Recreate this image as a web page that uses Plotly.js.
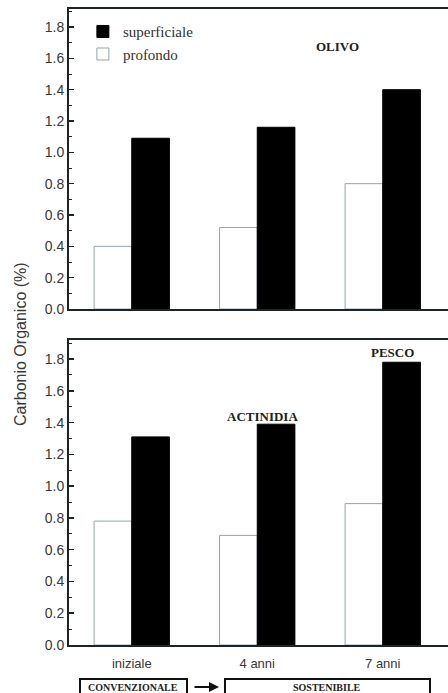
<!DOCTYPE html>
<html><head><meta charset="utf-8">
<script src="https://cdn.plot.ly/plotly-3.0.1.min.js"></script>
<style>html,body{margin:0;padding:0;background:#fff;}</style>
</head><body><div id="chart" style="width:448px;height:693px;"></div>
<script>
const periods = ["iniziale", "4 anni", "7 anni"];
const xpos = [0, 1, 2];
const olivoProfondo = [0.40, 0.52, 0.80];
const olivoSuperficiale = [1.09, 1.16, 1.40];
const lowerProfondo = [0.78, 0.69, 0.89];
const lowerSuperficiale = [1.31, 1.39, 1.78];
const yTicks = [0, 0.2, 0.4, 0.6, 0.8, 1.0, 1.2, 1.4, 1.6, 1.8];
const yTickText = ["0.0","0.2","0.4","0.6","0.8","1.0","1.2","1.4","1.6","1.8"];

const whiteBar = {color: "#ffffff", line: {color: "#8fa6ad", width: 1}};
const blackBar = {color: "#000000", line: {color: "#000000", width: 1}};

const traces = [
  {type: "bar", x: xpos, y: olivoProfondo, name: "profondo", marker: whiteBar, xaxis: "x", yaxis: "y", legendrank: 2, offsetgroup: "a"},
  {type: "bar", x: xpos, y: olivoSuperficiale, name: "superficiale", marker: blackBar, xaxis: "x", yaxis: "y", legendrank: 1, offsetgroup: "b"},
  {type: "bar", x: xpos, y: lowerProfondo, name: "profondo", marker: whiteBar, xaxis: "x2", yaxis: "y2", showlegend: false, offsetgroup: "a"},
  {type: "bar", x: xpos, y: lowerSuperficiale, name: "superficiale", marker: blackBar, xaxis: "x2", yaxis: "y2", showlegend: false, offsetgroup: "b"}
];

const axisLine = "#1e2326";
const yBase = {
  range: [0, 1.915], tickvals: yTicks, ticktext: yTickText,
  ticks: "inside", ticklen: 5, tickwidth: 1.5, tickcolor: axisLine,
  showline: true, linecolor: axisLine, linewidth: 2, mirror: false,
  showgrid: false, zeroline: false,
  tickfont: {family: "Liberation Sans, Arial, sans-serif", size: 14, color: "#383838"},
  minor: {dtick: 0.1, ticks: "inside", ticklen: 3, tickcolor: axisLine, tickwidth: 1},
  fixedrange: true
};
const xBase = {
  range: [-0.5, 2.52], showline: true, linecolor: axisLine, linewidth: 2, mirror: true,
  showgrid: false, zeroline: false, ticks: "", fixedrange: true
};

const layout = {
  width: 448, height: 693,
  margin: {l: 0, r: 0, t: 0, b: 0},
  paper_bgcolor: "#ffffff", plot_bgcolor: "#ffffff",
  barmode: "group", bargap: 0.4, bargroupgap: 0,
  showlegend: true,
  legend: {x: 0.185, y: 0.978, xanchor: "left", yanchor: "top", bgcolor: "rgba(0,0,0,0)",
           font: {family: "Liberation Serif, Times New Roman, serif", size: 15, color: "#333"},
           traceorder: "normal", itemwidth: 30, tracegroupgap: 2},
  xaxis: Object.assign({}, xBase, {domain: [69/448, 1], anchor: "y", showticklabels: false}),
  yaxis: Object.assign({}, yBase, {domain: [1 - 309/693, 1 - 9/693], anchor: "x"}),
  xaxis2: Object.assign({}, xBase, {domain: [69/448, 1], anchor: "y2", tickvals: xpos, ticktext: periods,
           ticklabelstandoff: 5,
           tickfont: {family: "Liberation Sans, Arial, sans-serif", size: 13, color: "#383838"}}),
  yaxis2: Object.assign({}, yBase, {domain: [1 - 645/693, 1 - 340/693], anchor: "x2", range: [0, 1.92]}),
  annotations: [
    {text: "Carbonio Organico (%)", xref: "paper", yref: "paper", x: 20/448, y: 1 - 344/693,
     xanchor: "center", yanchor: "middle",
     textangle: -90, showarrow: false, font: {family: "Liberation Sans, Arial, sans-serif", size: 16, color: "#383838"}},
    {text: "<b>OLIVO</b>", xref: "paper", yref: "paper", x: 337/448, y: 1 - 47/693, xanchor: "center", yanchor: "middle", showarrow: false,
     font: {family: "Liberation Serif, Times New Roman, serif", size: 13, color: "#222"}},
    {text: "<b>ACTINIDIA</b>", xref: "paper", yref: "paper", x: 262/448, y: 1 - 416/693, xanchor: "center", yanchor: "middle", showarrow: false,
     font: {family: "Liberation Serif, Times New Roman, serif", size: 13, color: "#222"}},
    {text: "<b>PESCO</b>", xref: "paper", yref: "paper", x: 392/448, y: 1 - 352/693, xanchor: "center", yanchor: "middle", showarrow: false,
     font: {family: "Liberation Serif, Times New Roman, serif", size: 13, color: "#222"}},
    {text: "<b>CONVENZIONALE</b>", xref: "paper", yref: "paper", x: 133/448, y: 1 - 687/693, xanchor: "center", yanchor: "middle", showarrow: false,
     font: {family: "Liberation Serif, Times New Roman, serif", size: 10, color: "#222"}},
    {text: "<b>SOSTENIBILE</b>", xref: "paper", yref: "paper", x: 327/448, y: 1 - 687/693, xanchor: "center", yanchor: "middle", showarrow: false,
     font: {family: "Liberation Serif, Times New Roman, serif", size: 10, color: "#222"}},
    {text: "", xref: "paper", yref: "paper", x: 219/448, y: 1 - 687/693, ax: 193/448, ay: 1 - 687/693,
     axref: "paper", ayref: "paper", showarrow: true, arrowhead: 2, arrowsize: 1, arrowwidth: 2, arrowcolor: "#111"}
  ],
  shapes: [
    {type: "rect", xref: "paper", yref: "paper", x0: 80/448, x1: 187/448, y0: 1 - 700/693, y1: 1 - 679/693,
     line: {color: "#111", width: 2}},
    {type: "rect", xref: "paper", yref: "paper", x0: 225/448, x1: 430/448, y0: 1 - 700/693, y1: 1 - 679/693,
     line: {color: "#111", width: 2}}
  ]
};

Plotly.newPlot("chart", traces, layout, {staticPlot: true, displayModeBar: false});
</script></body></html>
